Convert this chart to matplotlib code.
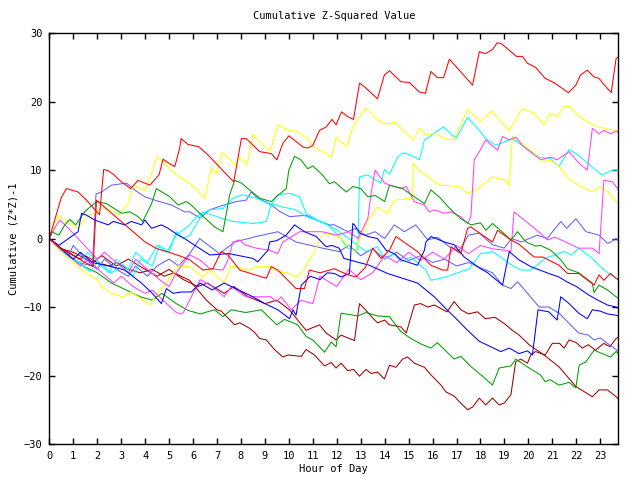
import matplotlib
matplotlib.use('Agg')
import matplotlib.pyplot as plt

plt.rcParams['font.family'] = 'DejaVu Sans Mono'

# hour of day / cumulative (Z*Z)-1, one pair per trace
red1_h = [0, 0.25, 0.5, 0.72, 1.2, 1.56, 2.0, 2.1, 2.27, 2.46, 2.67, 3.0, 3.4, 3.7, 4.2, 4.58, 4.75, 4.99, 5.24, 5.45, 5.5, 5.79, 6.25, 6.63, 7.39, 7.7, 8.02, 8.22, 8.78, 9.27, 9.5, 9.75, 10.0, 10.58, 10.79, 11.0, 11.28, 11.56, 11.8, 11.97, 12.2, 12.46, 12.7, 12.95, 13.15, 13.7, 13.99, 14.2, 14.68, 15.03, 15.45, 15.7, 15.93, 16.2, 16.46, 16.7, 17.67, 17.95, 18.2, 18.5, 18.7, 18.9, 19.5, 19.75, 19.96, 20.3, 20.7, 21.1, 21.67, 21.98, 22.18, 22.46, 22.74, 22.95, 23.1, 23.46, 23.57, 23.66, 23.75]
red1_v = [0, 3, 6, 7.3, 6.8, 5.6, 3.8, 3.5, 10.1, 9.9, 9.4, 8.3, 7.3, 8.5, 7.8, 9.3, 11.6, 11, 10.5, 13.3, 14.6, 13.75, 13.4, 12.2, 9.4, 8.3, 14.6, 14.6, 12.7, 12.4, 11.5, 13.9, 15, 13.4, 13.2, 13.6, 15.8, 16.3, 17.4, 16.6, 18.5, 17.8, 17.4, 22.7, 22.2, 20.4, 23.9, 24.5, 22.9, 22.8, 21.4, 21.2, 24.4, 23.5, 23.5, 26.2, 22.4, 27.3, 27, 27.6, 28.6, 28.4, 26.6, 26.6, 25.6, 25, 23.4, 22.7, 21.3, 22.4, 23.9, 24.6, 23.6, 23.4, 22.7, 21.3, 24.1, 26.3, 26.5]

red2_h = [0, 0.5, 1.0, 1.5, 1.83, 1.97, 2.5, 3.0, 3.5, 4.0, 4.5, 5.0, 5.5, 5.86, 6.42, 6.83, 7.18, 7.46, 7.95, 8.5, 9.06, 9.27, 9.54, 10.3, 10.65, 10.86, 11.3, 11.9, 12.46, 12.8, 13.2, 13.5, 13.85, 14.2, 14.47, 14.96, 15.37, 15.93, 16.42, 16.63, 16.77, 17.18, 17.46, 17.6, 17.88, 18.5, 18.71, 19.27, 19.6, 20.24, 20.6, 21.28, 21.63, 22.11, 22.74, 22.95, 23.15, 23.43, 23.66, 23.75]
red2_v = [0, -1.5, -2.5, -3.5, -4.1, 5.6, 4.0, 2.5, 1.0, -0.5, -1.5, -2.0, -2.6, -3.1, -4.6, -4.4, -1.9, -2.4, -4.6, -5.2, -5.8, -4.1, -4.6, -7.3, -7.3, -4.6, -5.0, -4.4, -5.3, -5.6, -4.2, -1.4, -2.9, -1.7, 0.3, -0.9, -1.9, -3.9, -4.6, -4.6, -1.2, -2.2, 1.5, 1.7, 1.0, -0.5, 1.2, -0.2, -0.8, -2.7, -2.7, -3.9, -5.1, -5.1, -6.8, -5.3, -6.1, -5.1, -5.8, -6.0]

yel1_h = [0, 0.37, 0.7, 1.2, 1.5, 2.25, 2.9, 3.29, 3.5, 4.0, 4.24, 4.5, 4.75, 5.3, 5.86, 6.49, 6.77, 6.97, 7.22, 7.78, 7.95, 8.25, 8.5, 9.06, 9.24, 9.54, 10.03, 10.3, 10.79, 11.03, 11.56, 11.77, 11.97, 12.1, 12.43, 12.67, 13.22, 13.7, 14.06, 14.43, 15.2, 15.47, 15.72, 16.14, 16.49, 16.9, 17.46, 17.99, 18.47, 19.2, 19.73, 20.24, 20.65, 20.93, 21.2, 21.49, 21.7, 22.25, 22.88, 23.22, 23.66, 23.75]
yel1_v = [0, 3.4, 2.5, 1.5, 3, 4.6, 3.5, 5.1, 7.8, 7, 9.3, 11.9, 11.2, 9.3, 8.1, 5.9, 10.3, 9.4, 12.6, 10.7, 11.9, 10.7, 15.2, 13.2, 12.9, 16.6, 15.7, 15.7, 14.6, 13.4, 12.4, 11.8, 14.8, 14.4, 13.4, 16.3, 19.1, 17.3, 16.7, 17, 14.4, 16.1, 15.1, 15.4, 14.6, 14.4, 18.9, 17.1, 18.6, 15.8, 19, 18.3, 16.6, 18.3, 17.8, 19.3, 19.3, 17.5, 16.3, 16.1, 15.7, 15.6]

yel2_h = [0, 0.25, 0.5, 1.0, 1.5, 2.0, 2.18, 2.6, 3.08, 3.43, 4.2, 4.5, 5.0, 5.4, 5.86, 6.42, 6.7, 7.3, 7.6, 8.3, 8.64, 9.2, 9.54, 10.03, 10.3, 10.58, 11.14, 11.4, 11.83, 12.1, 12.74, 13.0, 13.36, 13.7, 14.12, 14.4, 15.15, 15.2, 15.4, 15.72, 16.07, 16.35, 17.1, 17.46, 17.9, 18.5, 19.06, 19.2, 19.33, 19.75, 20.17, 20.65, 20.93, 21.27, 21.4, 21.77, 22.1, 22.67, 23.0, 23.3, 23.66, 23.75]
yel2_v = [0, -1, -2, -3.5, -5, -6, -7, -8, -8.5, -7.8, -9.7, -8, -6, -4, -4.1, -5.6, -4.6, -6.5, -4, -4.6, -4.1, -4.1, -4.8, -5.1, -5.6, -4.8, -1.4, 0.8, 0.5, 0.3, -2, 0.3, 2.9, 4.6, 3.7, 5.6, 5.9, 11, 10, 9.3, 8.3, 7.8, 7.6, 6.6, 7.3, 9, 8.5, 7.7, 14.9, 13.9, 12.7, 11.2, 11.5, 10.5, 10, 8.5, 7.8, 6.8, 7.6, 6.8, 5.4, 5.1]

mag1_h = [0, 0.3, 0.45, 0.8, 1.2, 1.6, 2.0, 2.3, 2.8, 3.3, 3.6, 4.1, 4.6, 5.0, 5.3, 5.86, 6.28, 6.7, 7.25, 7.46, 7.67, 7.95, 8.15, 8.64, 9.2, 9.54, 9.75, 10.45, 11.0, 11.4, 12.0, 12.5, 12.9, 13.3, 13.45, 13.6, 14.0, 14.2, 14.68, 14.9, 15.24, 15.66, 15.86, 16.07, 16.49, 16.77, 17.18, 17.46, 17.6, 17.74, 17.95, 18.22, 18.71, 18.92, 19.2, 19.47, 19.75, 20.17, 20.52, 20.93, 21.2, 21.7, 22.11, 22.46, 22.67, 22.95, 23.15, 23.43, 23.66, 23.75]
mag1_v = [0, 2, 2.7, 1.5, 0, -1.5, -3, -2, -3.5, -5, -3, -4.5, -6, -7, -5, -2.4, -3.1, -4.4, -4.6, -3.1, -0.5, -0.2, -0.9, -1.4, -1.7, -2.2, -0.5, 1, 1, 1, 0.5, 1, 0, 3, 7, 10, 8.1, 7.8, 7.3, 7.6, 5.4, 4.9, 3.9, 4.2, 3.7, 3.9, 3.2, 2.2, 3.2, 11.5, 12.7, 14.4, 12.9, 14.9, 14.4, 14.8, 13.6, 12.4, 11.5, 11.9, 11.5, 12.7, 11, 10, 16.1, 15.3, 15.8, 15.3, 15.7, 15.5]

mag2_h = [0, 0.3, 0.8, 1.3, 1.6, 2.2, 2.7, 3.0, 3.5, 4.0, 4.3, 4.9, 5.3, 5.5, 5.6, 6.0, 6.3, 6.8, 7.3, 7.6, 8.2, 9.25, 9.47, 9.68, 10.1, 10.5, 11.0, 11.3, 12.0, 12.5, 13.0, 13.5, 14.0, 14.5, 15.0, 15.5, 16.0, 16.5, 17.0, 17.5, 18.0, 18.5, 19.0, 19.27, 19.4, 19.9, 20.5, 20.8, 21.1, 21.56, 22.1, 22.67, 22.95, 23.15, 23.5, 23.66, 23.75]
mag2_v = [0, -1, -2.5, -4, -3, -5, -6.5, -5.5, -7, -8, -7.5, -9.5, -10.8, -11, -10.8, -8, -6, -7, -8.5, -7, -8.5, -8.5, -9.2, -8.5, -10.4, -9, -9.5, -5.5, -7, -4.5, -6, -5, -2.5, -3.5, -2, -3.2, -2, -3, -1, -2.2, -1, -1.5, -1.7, -1.9, 3.9, 2.5, 0.8, -0.2, 0.2, -0.5, -1.4, -1.4, -2.2, 8.5, 8.3, 7.6, 7.2]

cyan1_h = [0, 0.3, 0.8, 1.3, 1.6, 2.1, 2.6, 3.0, 3.5, 3.8, 4.3, 4.6, 5.0, 5.3, 5.6, 5.86, 6.42, 6.7, 7.25, 7.67, 8.08, 8.64, 9.27, 9.54, 10.03, 10.45, 10.72, 11.2, 11.56, 11.97, 12.1, 12.46, 12.88, 12.95, 13.3, 13.64, 13.85, 13.99, 14.2, 14.54, 14.75, 15.03, 15.45, 15.66, 15.93, 16.14, 16.46, 16.98, 17.46, 17.95, 18.22, 18.64, 19.33, 19.9, 20.5, 20.93, 21.27, 21.7, 22.04, 22.74, 23.08, 23.5, 23.66, 23.75]
cyan1_v = [0, -1, -2.5, -3.5, -2, -3.5, -5, -4, -5.5, -3, -4, -1, -2, 1, 0, 0.5, 3.7, 4.2, 4.4, 5.9, 6.4, 5.9, 4.9, 6.4, 6.6, 6.1, 3.7, 2.7, 2.2, 0.8, 0.3, -1.4, -1.7, 9, 9.3, 8.5, 8.1, 10.1, 9.4, 11.9, 12.5, 12.3, 11.5, 14.4, 15, 15.6, 16.3, 14.6, 17.7, 15.8, 14.6, 13.6, 14.6, 13.2, 11.8, 11.7, 10.5, 13, 12.3, 10.2, 9.3, 10, 10, 9.9]

cyan2_h = [0, 0.25, 0.75, 1.2, 1.7, 2.0, 2.5, 2.8, 3.3, 3.6, 4.1, 4.5, 4.9, 5.3, 5.86, 6.14, 6.42, 7.25, 7.67, 8.5, 9.06, 9.27, 9.75, 10.3, 10.72, 11.3, 11.9, 12.5, 13.22, 13.7, 13.99, 14.4, 14.68, 15.1, 15.72, 15.93, 16.56, 17.53, 18.0, 18.5, 19.33, 19.68, 20.1, 20.7, 21.49, 21.8, 22.1, 22.67, 23.0, 23.43, 23.66, 23.75]
cyan2_v = [0, -1, -2.5, -3.5, -4.8, -3.5, -5, -3, -4.5, -2, -3.5, -1, -2, 0.5, 2, 3.2, 3.9, 2.9, 2.5, 2.2, 2.5, 5.1, 4.6, 4.2, 3.2, 2.5, 1.5, 0, -1.9, -1.2, -2.9, -2.2, -3.4, -2.7, -4.6, -6.1, -5.6, -4.4, -2.2, -1.9, -3.9, -4.6, -4.6, -2.9, -1.9, -2.4, -1.4, -2.9, -4.1, -5.3, -5.8, -6.0]

slate1_h = [0, 0.3, 0.8, 1.2, 1.8, 1.95, 2.18, 2.6, 3.22, 3.6, 3.99, 4.5, 5.1, 5.65, 5.86, 6.3, 6.7, 7.2, 7.8, 8.22, 8.43, 8.7, 9.2, 9.6, 10.03, 10.72, 11.28, 11.7, 11.9, 12.46, 12.8, 13.2, 13.6, 14.0, 14.4, 14.82, 15.3, 15.8, 16.2, 16.7, 17.1, 17.5, 17.95, 18.5, 18.99, 19.3, 19.7, 20.37, 20.78, 21.35, 21.6, 21.98, 22.4, 22.95, 23.3, 23.45, 23.66, 23.75]
slate1_v = [0, -1, -2.5, -3.5, -4, 6.5, 6.8, 7.8, 8.1, 7, 6.1, 5.5, 4.9, 3.9, 3.9, 3, 4.2, 4.8, 5.4, 5.6, 6.8, 5.9, 5.1, 4, 3.2, 3.4, 2.5, 2, 2, 1, 1.5, 0.5, 1, 0, 2, 1, 2, -0.2, 0.2, -1.2, -1.8, 0.5, 0.8, -0.9, -1.4, 0, -0.5, 0.5, 0, 2.5, 1.5, 2.9, 1, 0.5, -0.7, -0.5, 0, -0.3]

slate2_h = [0, 0.4, 0.8, 1.0, 1.5, 2.0, 2.3, 2.8, 3.3, 3.6, 4.1, 4.5, 5.0, 5.4, 5.86, 6.28, 7.1, 7.74, 8.64, 9.54, 10.3, 11.4, 12.1, 12.5, 13.0, 13.5, 14.0, 14.5, 15.0, 15.5, 16.0, 16.5, 17.0, 17.5, 17.95, 18.5, 18.92, 19.27, 19.55, 20.45, 20.85, 21.28, 22.1, 22.5, 22.74, 23.0, 23.3, 23.66, 23.75]
slate2_v = [0, -1.5, -2.5, -1, -3, -4.5, -3, -4.5, -5.5, -4, -5.5, -4, -3, -4, -2.2, 0, -2.2, -0.5, 0.3, 1, -0.5, -1.4, -1.9, -1, -2.5, -1.5, -3, -2, -3.2, -2.5, -3.5, -3, -4, -3.5, -4.2, -5, -6.8, -7.3, -6.3, -10, -10, -10.9, -13.8, -14.1, -14.8, -14.5, -15.3, -16.2, -16.5]

blue1_h = [0, 0.5, 1.0, 1.3, 1.8, 2.6, 3.15, 3.85, 4.3, 4.68, 4.89, 5.17, 5.52, 5.93, 6.3, 6.8, 7.3, 7.9, 8.5, 9.0, 9.54, 10.03, 10.17, 10.3, 10.52, 10.9, 11.3, 11.6, 11.9, 12.18, 12.53, 12.67, 12.74, 12.95, 13.3, 13.7, 14.06, 14.4, 14.68, 15.37, 15.66, 15.72, 15.93, 16.49, 16.9, 17.32, 17.6, 18.0, 18.3, 18.92, 19.2, 19.6, 20.1, 20.85, 21.27, 21.6, 22.0, 22.5, 22.9, 23.3, 23.66, 23.75]
blue1_v = [0, -1.5, -3, -2, -3.5, -4.1, -4.6, -6.5, -8, -9.5, -7.3, -8, -7.8, -7.8, -6.5, -7.5, -6.5, -7.5, -8.5, -9.5, -10.4, -11.7, -10.4, -11.2, -6.8, -5.5, -6, -5, -5.1, -5.6, -5.1, 2.2, 2, 0.8, 0.3, 0, -1.7, -2.2, -3.1, -3.9, -1.7, -0.5, 0.3, -0.5, -0.9, -2.7, -3.4, -4.4, -5, -6.8, -1.9, -3.1, -4.1, -5.1, -5.6, -6.3, -7, -8.2, -9, -9.7, -10, -10.2]

blue2_h = [0, 0.4, 1.2, 1.35, 1.56, 1.9, 2.46, 2.67, 3.15, 3.43, 3.85, 3.99, 4.27, 4.68, 4.96, 5.38, 5.65, 5.86, 6.7, 7.5, 8.5, 8.7, 9.13, 9.2, 9.5, 9.89, 10.24, 10.65, 11.14, 11.56, 11.8, 12.1, 12.3, 13.36, 14.12, 15.37, 16.07, 16.6, 16.9, 17.46, 17.95, 18.43, 18.85, 19.2, 19.61, 19.96, 20.17, 20.4, 20.85, 21.2, 21.35, 21.7, 22.1, 22.46, 22.67, 23.0, 23.3, 23.66, 23.75]
blue2_v = [0, -1, 1, 3.7, 3.4, 2.7, 2, 2.5, 2, 2.5, 2, 2.7, 1.5, 2, 1.5, 0.5, 0, -0.5, -2.4, -2.2, -2.9, -3.4, -1.7, -0.5, -0.3, 0.5, 2, 1, 0.3, -1.2, -1, -1.4, -2.9, -3.9, -5.1, -6.5, -8.5, -10.4, -11.4, -13.4, -15, -15.8, -16.5, -16, -16.8, -16.4, -17, -10.4, -10.7, -11.9, -8.5, -9.5, -10.9, -11.7, -10.4, -10.6, -11, -11.2, -11.3]

green1_h = [0, 0.1, 0.4, 0.65, 0.86, 1.1, 1.5, 1.97, 2.39, 3.02, 3.36, 3.71, 3.9, 4.27, 4.47, 5.03, 5.38, 5.72, 5.86, 6.28, 6.9, 7.25, 7.53, 7.74, 8.02, 8.36, 8.78, 9.27, 9.47, 9.89, 10.0, 10.24, 10.5, 10.79, 11.0, 11.4, 11.7, 11.9, 12.4, 12.67, 13.0, 13.3, 13.6, 14.0, 14.2, 14.75, 15.24, 15.66, 15.93, 16.3, 16.77, 17.18, 17.6, 18.0, 18.22, 18.5, 18.9, 19.27, 19.55, 19.9, 20.3, 20.5, 20.93, 21.35, 21.63, 22.1, 22.67, 22.74, 22.95, 23.3, 23.66, 23.75]
green1_v = [0, 1, 0.5, 2, 2.8, 2, 4, 5.4, 5.1, 3.7, 3.9, 3.2, 2.5, 5.1, 7.3, 6.1, 4.9, 5.4, 5.1, 3.7, 1.7, 1, 6.4, 8.5, 8.1, 7.1, 5.9, 5.4, 6.1, 7.3, 10, 12, 11.5, 10.2, 10.6, 9.3, 8, 8.3, 6.8, 7.6, 7.3, 6.1, 6.3, 5.4, 7.8, 7.3, 6.1, 5.1, 7.1, 6, 4.2, 2.9, 2, 2.3, 1.2, 2.2, 1, -0.2, 1, -0.5, -1.1, -1, -1.7, -3.1, -4.4, -5, -6.5, -7.9, -6.8, -7.5, -8.5, -8.7]

green2_h = [0, 0.3, 0.8, 1.4, 2.0, 2.6, 3.2, 3.8, 4.3, 4.7, 5.3, 5.8, 6.3, 6.9, 7.25, 7.6, 8.2, 8.85, 9.5, 9.82, 10.37, 10.72, 11.0, 11.49, 11.77, 11.97, 12.18, 12.88, 13.22, 13.7, 14.2, 14.68, 15.1, 15.52, 15.93, 16.2, 16.9, 17.18, 17.6, 18.12, 18.5, 18.78, 19.27, 19.47, 20.03, 20.5, 20.7, 20.9, 21.28, 21.7, 21.98, 22.12, 22.4, 22.74, 23.43, 23.66, 23.75]
green2_v = [0, -1, -2.5, -4, -5, -6.5, -7.5, -8.5, -9, -8, -9.5, -10.5, -11, -10.4, -11.4, -10.4, -10.8, -10.4, -12.6, -11.8, -12.6, -14.3, -14.8, -16.6, -15.1, -15.8, -10.9, -11.3, -10.8, -11.3, -11.4, -13.6, -14.6, -15.4, -16, -15.2, -17.6, -17.2, -18.7, -20.2, -21.4, -18.9, -18.6, -17.6, -18.9, -19.9, -20.9, -20.6, -21.4, -21, -21.8, -18.5, -18, -16.3, -17.3, -16.5, -16.8]

dred1_h = [0, 0.5, 1.0, 1.8, 2.2, 2.8, 3.3, 4.0, 4.5, 5.0, 5.6, 6.2, 6.6, 7.3, 7.7, 8.3, 9.0, 9.5, 10.02, 10.72, 11.0, 11.28, 11.56, 11.97, 12.18, 12.74, 12.88, 12.95, 13.2, 13.45, 13.7, 14.0, 14.2, 14.68, 14.9, 15.24, 15.5, 15.8, 16.07, 16.6, 16.9, 17.18, 17.5, 17.88, 18.2, 18.6, 18.99, 19.33, 19.61, 20.03, 20.65, 21.27, 21.98, 22.67, 22.95, 23.3, 23.66, 23.75]
dred1_v = [0, -1.5, -2, -3.5, -2.5, -4, -3, -4.5, -5.5, -4.5, -6, -7, -6.5, -8, -7, -8.5, -9.5, -9, -10.4, -13.4, -13, -12.6, -13.8, -14.8, -14.1, -14.9, -11.2, -9.5, -10.4, -11.4, -12.3, -11.9, -12.6, -12.9, -13.8, -9.7, -9.5, -10, -9.7, -10.7, -9.2, -10.4, -11, -10.7, -11.7, -11.5, -12.4, -13.4, -14.1, -15.5, -17, -18.7, -21.6, -23.1, -22.1, -22.1, -23.1, -23.4]

dred2_h = [0, 0.3, 0.8, 1.3, 1.5, 2.0, 2.5, 2.8, 3.3, 3.8, 4.3, 4.8, 5.2, 5.5, 5.86, 6.56, 7.0, 7.18, 7.74, 7.95, 8.36, 8.57, 8.78, 9.06, 9.4, 9.75, 9.96, 10.52, 10.72, 11.07, 11.49, 11.77, 11.97, 12.18, 12.46, 12.7, 12.95, 13.22, 13.43, 13.7, 13.99, 14.2, 14.47, 14.75, 14.96, 15.24, 15.66, 15.93, 16.35, 16.56, 16.9, 17.11, 17.46, 17.67, 17.95, 18.22, 18.5, 18.78, 19.0, 19.27, 19.41, 19.47, 19.68, 19.96, 20.1, 20.3, 20.7, 21.0, 21.3, 21.49, 21.7, 22.0, 22.25, 22.5, 22.8, 23.15, 23.4, 23.66, 23.75]
dred2_v = [0, -1, -2, -3, -2.5, -3.5, -4, -3.5, -4.5, -5, -4.5, -5.5, -5, -5.5, -6.1, -9, -10.4, -10.6, -12.6, -12.3, -13.1, -13.7, -14.6, -14.8, -16.2, -17.3, -17, -17.2, -16.2, -17, -18.6, -18.1, -18.9, -18.2, -19.3, -19.1, -20.1, -19.1, -19.7, -19.5, -20.5, -18.5, -18.8, -17.6, -17.3, -18.2, -18.8, -19.9, -21.4, -22.4, -23, -23.8, -25, -24.6, -23.3, -24.3, -23.3, -24.3, -24, -22.8, -19.4, -18, -17.6, -18.2, -17, -16.5, -17, -15.3, -15.3, -16, -14.8, -15.2, -16, -15.5, -16.3, -15.3, -15.8, -14.6, -14.4]

traces = [
    (dred2_h, dred2_v, '#a00000'),
    (dred1_h, dred1_v, '#a00000'),
    (green2_h, green2_v, '#00a000'),
    (slate2_h, slate2_v, '#6060ff'),
    (slate1_h, slate1_v, '#6060ff'),
    (cyan2_h, cyan2_v, '#00ffff'),
    (cyan1_h, cyan1_v, '#00ffff'),
    (yel2_h, yel2_v, '#ffff00'),
    (yel1_h, yel1_v, '#ffff00'),
    (mag2_h, mag2_v, '#ff40ff'),
    (mag1_h, mag1_v, '#ff40ff'),
    (green1_h, green1_v, '#00a000'),
    (blue2_h, blue2_v, '#0000ff'),
    (blue1_h, blue1_v, '#0000ff'),
    (red2_h, red2_v, '#ff0000'),
    (red1_h, red1_v, '#ff0000'),
]

fig = plt.figure(figsize=(6.4, 4.8), dpi=100)
ax = fig.add_axes([0.077, 0.075, 0.889, 0.856])

for h, v, c in traces:
    ax.plot(h, v, color=c, lw=0.75)

ax.set_xlim(0, 23.75)
ax.set_ylim(-30, 30)
ax.set_xticks(range(24))
ax.set_yticks(range(-30, 31, 10))
ax.tick_params(direction='in', top=True, right=True, length=4, width=1, labelsize=7.5, pad=5)
for s in ax.spines.values():
    s.set_linewidth(1)

ax.set_title('Cumulative Z-Squared Value', fontsize=7.5, pad=10)
ax.set_xlabel('Hour of Day', fontsize=7.5, labelpad=2)
ax.set_ylabel('Cumulative (Z*Z)-1', fontsize=7.5, labelpad=4)

fig.savefig('out.png', dpi=100)
